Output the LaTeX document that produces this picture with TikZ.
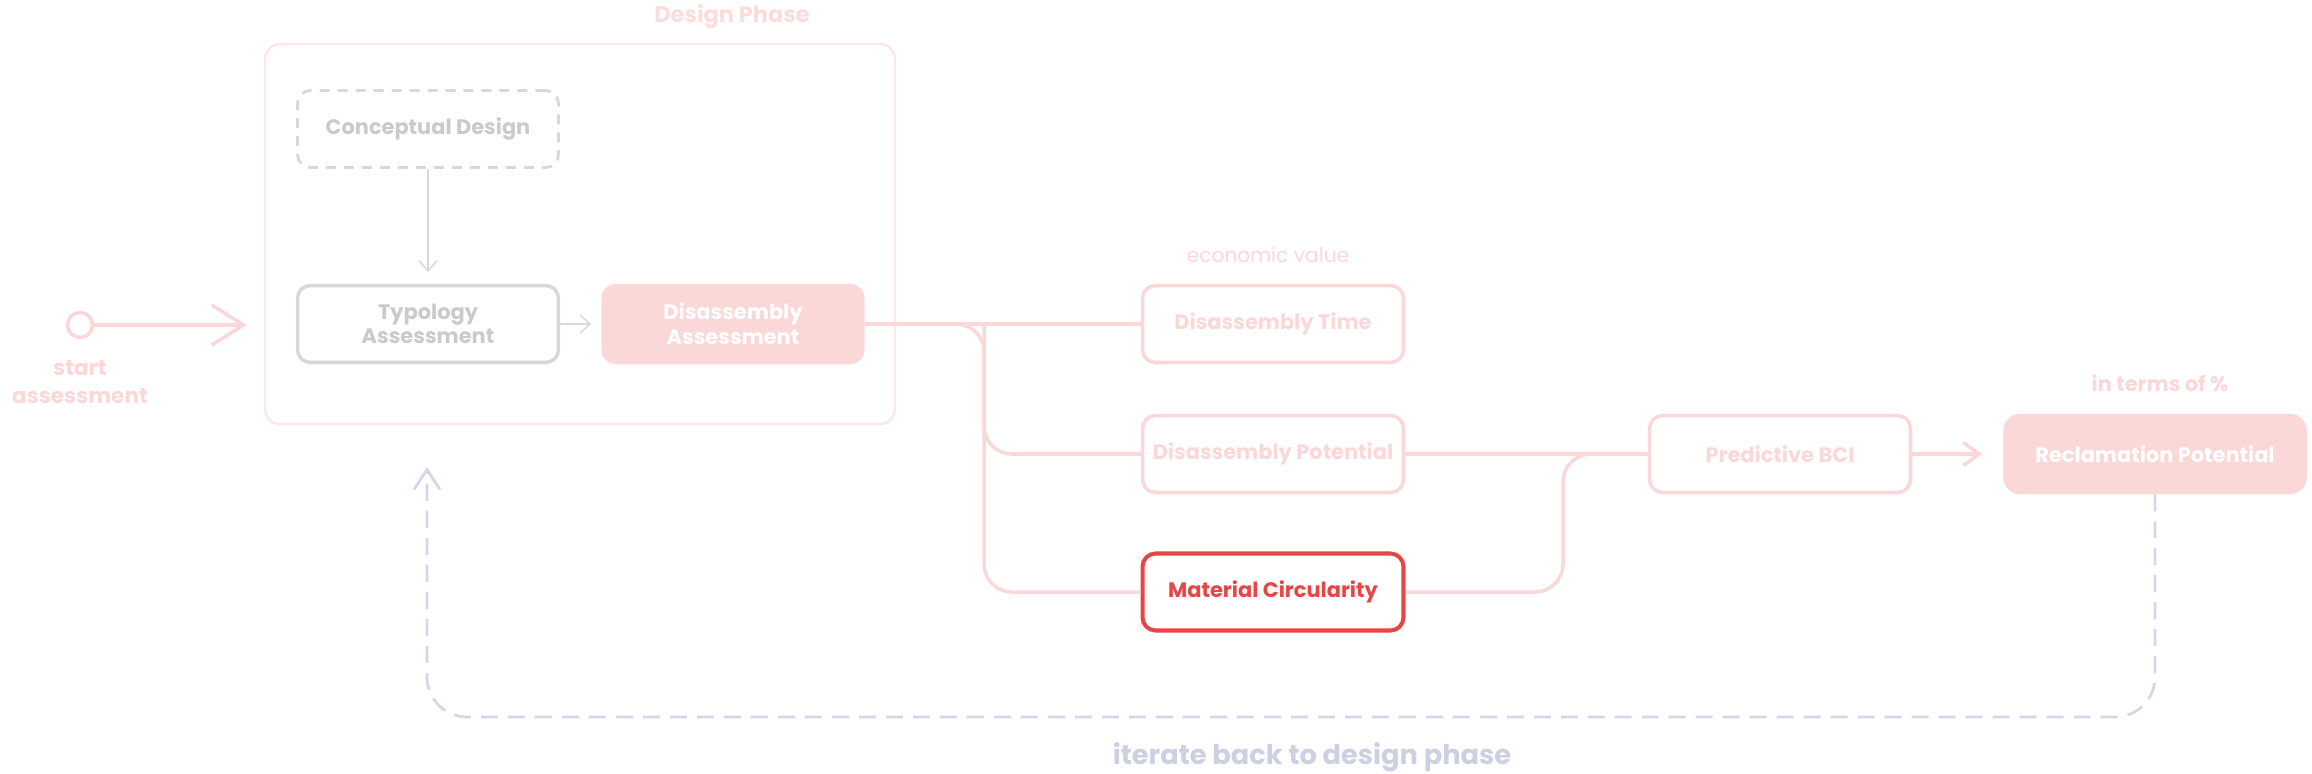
\documentclass[tikz,border=0pt]{standalone}
\usepackage{fontspec}
\setmainfont{Poppins}
\usetikzlibrary{arrows.meta}
\usetikzlibrary{calc}

\definecolor{blush}{HTML}{FAD8D8}
\definecolor{phaseline}{HTML}{FDE6E6}
\definecolor{phasetext}{HTML}{FBDCDC}
\definecolor{greyline}{HTML}{D8D8D8}
\definecolor{greytext}{HTML}{CACACA}
\definecolor{alarm}{HTML}{E84545}
\definecolor{lilac}{HTML}{D5D7E6}
\definecolor{lilactext}{HTML}{CDD0E1}

\newcommand{\boxfont}{\fontsize{11.9}{14}\selectfont\bfseries}
\newcommand{\notefont}{\fontsize{11.5}{14}\selectfont}

\begin{document}
\begin{tikzpicture}[x=0.02cm,y=-0.02cm,
	>/.tip={Straight Barb[length=0.4cm,width=0.52cm]},
	stage/.style={draw=blush,line width=2pt,rounded corners=0.26cm,minimum width=5.22cm,minimum height=1.54cm,align=center,text=blush,font=\boxfont},
	solidstage/.style={stage,fill=blush,text=white},
	greystage/.style={stage,draw=greyline,text=greytext},
	wire/.style={draw=blush,line width=2pt,rounded corners=0.56cm},
	thin/.style={draw=greyline,line width=0.8pt,-{Straight Barb[length=0.2cm,width=0.36cm]}},
	loopback/.style={draw=lilac,line width=1.6pt,dash pattern=on 0.34cm off 0.2cm,rounded corners=0.8cm}]
	\useasboundingbox (0,0) rectangle (2312,774);

	\draw (580,234) node (phase) [draw=phaseline,line width=1.3pt,rounded corners=0.3cm,minimum width=12.6cm,minimum height=7.6cm] {};
	\node (phaselabel) [text=phasetext,font=\fontsize{12.8}{15}\selectfont\bfseries] at (732,17) {Design Phase};

	\draw (428,129) node (concept) [greystage,dash pattern=on 0.2cm off 0.16cm,line width=1.6pt] {Conceptual Design};
	\draw (428,324) node (typology) [greystage] {Typology\\Assessment};
	\draw (733,324) node (disasm) [solidstage,minimum width=5.2cm] {Disassembly\\Assessment};

	\draw (80,325) node (start) [circle,draw=blush,line width=2pt,minimum size=0.5cm,inner sep=0pt] {};
	\node (startlabel) [align=center,text=blush,font=\fontsize{12.3}{15.5}\selectfont\bfseries] at (80,382) {start\\assessment};

	\draw (1273,324) node (dtime) [stage] {Disassembly Time};
	\node (econ) [text=blush,font=\notefont] at (1268,255) {economic value};
	\draw (1273,454) node (dpot) [stage] {Disassembly Potential};
	\draw (1273,592) node (matcirc) [stage,draw=alarm,text=alarm,line width=2.3pt] {Material Circularity};
	\draw (1780,454) node (bci) [stage] {Predictive BCI};
	\draw (2155,454) node (reclaim) [solidstage,minimum width=6cm,rounded corners=0.3cm] {Reclamation Potential};
	\node (terms) [text=blush,font=\boxfont] at (2160,383) {in terms of \%};
	\node (iterate) [text=lilactext,font=\fontsize{15.5}{18}\selectfont\bfseries] at (1312,757) {iterate back to design phase};

	\coordinate (fork) at (984,324);
	\coordinate (merge) at (1563,454);
	\coordinate (low) at (427,717);
	\coordinate (back) at (427,467);

	\draw[blush,line width=2pt,-{Straight Barb[length=0.64cm,width=0.8cm]},shorten >=0.34cm] (start) -- (start -| phase.west);
	\path[thin] (concept) edge [shorten >=0.24cm] (typology);
	\path[thin] (typology) edge [shorten >=0.2cm] (disasm);
	\path[wire] (disasm.east) -- (dtime.west);
	\path[wire] (disasm.east) -- (fork) |- (dpot.west);
	\path[wire] (fork) |- (matcirc.west);
	\path[wire] (dpot) -- (bci);
	\path[wire] (matcirc.east) -| (merge) -- (bci.west);
	\draw[blush,line width=2pt,-{Straight Barb[length=0.32cm,width=0.46cm]},shorten >=0.42cm] (bci) -- (reclaim);
	\path[loopback,->] (reclaim.south) |- (low) -- (back);
\end{tikzpicture}
\end{document}
